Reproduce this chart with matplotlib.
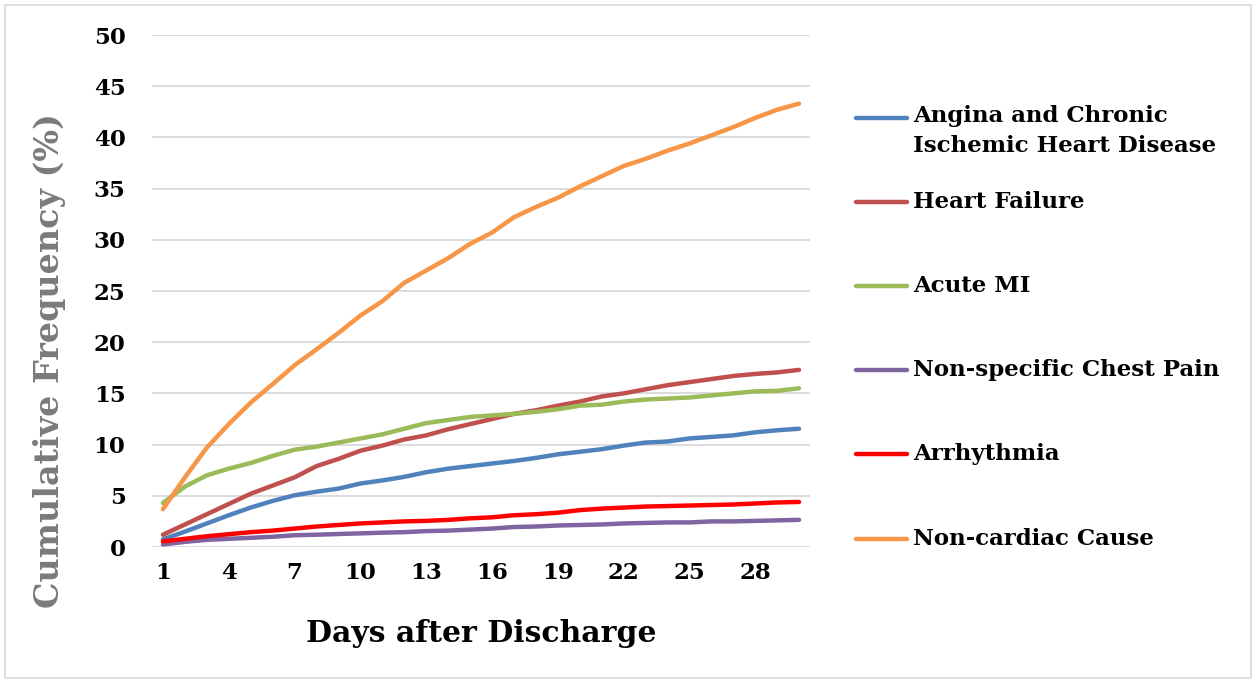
#!/usr/bin/env python3
"""Cumulative frequency of readmission causes after discharge."""

import matplotlib

matplotlib.use("Agg")
import matplotlib.pyplot as plt
from matplotlib.lines import Line2D
from matplotlib.patches import Rectangle

days = list(range(1, 31))

angina = [0.75, 1.5, 2.3, 3.1, 3.85, 4.5, 5.05, 5.4, 5.7, 6.2,
          6.5, 6.85, 7.3, 7.65, 7.9, 8.15, 8.4, 8.7, 9.05, 9.3,
          9.55, 9.9, 10.2, 10.3, 10.6, 10.75, 10.9, 11.2, 11.4, 11.55]
heart_failure = [1.2, 2.2, 3.2, 4.2, 5.2, 6.0, 6.8, 7.9, 8.6, 9.4,
                 9.9, 10.5, 10.9, 11.5, 12.0, 12.5, 13.0, 13.35, 13.8, 14.2,
                 14.7, 15.0, 15.4, 15.8, 16.1, 16.4, 16.7, 16.9, 17.05, 17.3]
acute_mi = [4.3, 5.9, 7.0, 7.65, 8.2, 8.9, 9.5, 9.8, 10.2, 10.6,
            11.0, 11.55, 12.1, 12.4, 12.7, 12.85, 13.0, 13.2, 13.45, 13.8,
            13.9, 14.2, 14.4, 14.5, 14.6, 14.8, 15.0, 15.2, 15.25, 15.5]
chest_pain = [0.25, 0.5, 0.7, 0.8, 0.9, 1.0, 1.15, 1.2, 1.27, 1.33,
              1.4, 1.45, 1.55, 1.6, 1.7, 1.8, 1.95, 2.0, 2.1, 2.15,
              2.2, 2.3, 2.35, 2.4, 2.4, 2.5, 2.5, 2.55, 2.6, 2.65]
arrhythmia = [0.55, 0.8, 1.05, 1.25, 1.45, 1.6, 1.8, 2.0, 2.15, 2.3,
              2.4, 2.5, 2.55, 2.65, 2.8, 2.9, 3.1, 3.2, 3.35, 3.6,
              3.75, 3.85, 3.95, 4.0, 4.05, 4.1, 4.15, 4.25, 4.35, 4.4]
non_cardiac = [3.7, 6.8, 9.7, 12.0, 14.1, 15.9, 17.75, 19.3, 20.9, 22.6,
               24.0, 25.8, 27.0, 28.2, 29.6, 30.7, 32.2, 33.2, 34.1, 35.2,
               36.2, 37.2, 37.9, 38.7, 39.4, 40.2, 41.0, 41.9, 42.7, 43.3]

labels = [
    "Angina and Chronic\nIschemic Heart Disease",
    "Heart Failure",
    "Acute MI",
    "Non-specific Chest Pain",
    "Arrhythmia",
    "Non-cardiac Cause",
]
colors = ["#4f81bd", "#c0504d", "#9bbb59", "#8064a2", "#ff0000", "#f79646"]
series = [angina, heart_failure, acute_mi, chest_pain, arrhythmia, non_cardiac]

x_ticks = list(range(1, 29, 3))
y_ticks = list(range(0, 51, 5))

SERIF = "DejaVu Serif"

fig = plt.figure(figsize=(12.56, 6.83), dpi=100)
fig.patches.append(Rectangle((0.004, 0.007), 0.992, 0.986, transform=fig.transFigure,
                             fill=False, edgecolor="#d9d9d9", linewidth=1.2))

ax = fig.add_axes([152 / 1256, 1 - 547 / 683, (810 - 152) / 1256, (547 - 35) / 683])

for vals, col in zip(series, colors):
    ax.plot(days, vals, color=col, linewidth=3.2, solid_capstyle="round", zorder=3)

ax.set_xlim(0.5, 30.5)
ax.set_ylim(0, 50)
ax.set_xticks(x_ticks)
ax.set_yticks(y_ticks)
ax.grid(axis="y", color="#d9d9d9", linewidth=1.3, zorder=0)
ax.tick_params(axis="y", length=0, pad=19)
ax.tick_params(axis="x", length=0, pad=11)
for sp in ax.spines.values():
    sp.set_visible(False)

for lab in ax.get_xticklabels() + ax.get_yticklabels():
    lab.set_fontfamily(SERIF)
    lab.set_fontweight("bold")
    lab.set_fontsize(16.5)

ax.set_xlabel("Days after Discharge", fontfamily=SERIF, fontweight="bold", fontsize=21.5)
ax.xaxis.set_label_coords((481 - 152) / 658, -(633 - 547) / 512)
ax.xaxis.label.set_va("center")
ax.set_ylabel("Cumulative Frequency (%)", fontfamily=SERIF, fontsize=24,
              fontweight="bold", color="#7a7a7a")
ax.yaxis.set_label_coords((50 - 152) / 658, (547 - 361) / 512)
ax.yaxis.label.set_va("center")

# legend drawn by hand so the handle sits on the first line of a wrapped label
legend_y = [118, 202, 286, 370, 454, 539]
for lab, col, yp in zip(labels, colors, legend_y):
    yf = 1 - yp / 683
    fig.add_artist(Line2D([856 / 1256, 907 / 1256], [yf, yf], color=col,
                          linewidth=3.2, solid_capstyle="round", transform=fig.transFigure))
    if "\n" in lab:
        fig.text(913 / 1256, 1 - (yp - 13) / 683, lab, fontfamily=SERIF, fontweight="bold",
                 fontsize=16.5, va="top", ha="left", linespacing=1.45)
    else:
        fig.text(913 / 1256, yf, lab, fontfamily=SERIF, fontweight="bold", fontsize=16.5,
                 va="center", ha="left")

fig.savefig("out.png", dpi=100)
